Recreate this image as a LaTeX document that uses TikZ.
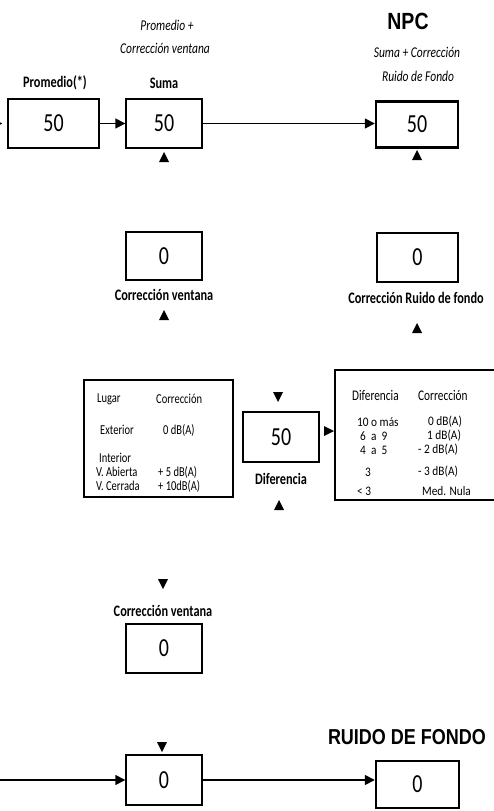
\documentclass[tikz,border=0pt]{standalone}
\usepackage{graphicx}
\usepackage{fontspec}
\setmainfont{Carlito}
\newfontfamily\arialfont{Liberation Sans}
\usetikzlibrary{arrows.meta}
\newcommand{\vs}[1]{\scalebox{1}[1.3]{#1}}
\newcommand{\vt}[1]{\scalebox{1}[1.2]{#1}}
\newcommand{\vr}[1]{\scalebox{1}[1.15]{#1}}
\begin{document}
\begin{tikzpicture}[x=1pt,y=-1pt,
  box/.style={draw, line width=1.4pt, inner sep=0pt, font=\fontsize{20}{24}\selectfont},
  bbox/.style={box, line width=2.4pt},
  lbl/.style={font=\bfseries\fontsize{12.3}{14}\selectfont, inner sep=0pt},
  capt/.style={font=\itshape\fontsize{11.5}{14}\selectfont, inner sep=0pt},
  titl/.style={font=\arialfont\bfseries\fontsize{18}{20}\selectfont, inner sep=0pt},
  ttxt/.style={font=\fontsize{11.3}{13}\selectfont, inner sep=0pt, anchor=west},
  ltxt/.style={font=\fontsize{10.5}{12}\selectfont, inner sep=0pt, anchor=west},
  arr/.style={line width=1.5pt, -{Triangle[length=10pt,width=10pt]}},
  tup/.pic={\fill (0,-5) -- (5,5) -- (-5,5) -- cycle;},
  tdown/.pic={\fill (0,5) -- (5,-5) -- (-5,-5) -- cycle;},
  tright/.pic={\fill (5,0) -- (-5,-5) -- (-5,5) -- cycle;}
]
\useasboundingbox (0,0) rectangle (493,811);

% ---------- top ----------
\node[capt] (c1a) at (167,25) {\vs{Promedio +}};
\node[capt] (c1b) at (165,48) {\vs{Corrección ventana}};
\node[titl, font=\arialfont\bfseries\fontsize{19.5}{22}\selectfont] (npct) at (408,21) {\vt{NPC}};
\node[capt] (c2a) at (417,52) {\vs{Suma + Corrección}};
\node[capt] (c2b) at (418,76) {\vs{Ruido de Fondo}};
\node[lbl] (lprom) at (55,83) {\vs{Promedio(*)}};
\node[lbl] (lsuma) at (164,83) {\vs{Suma}};
\node[box, minimum width=91pt, minimum height=49pt] (prom) at (53.5,123.5) {\vs{50}};
\node[box, minimum width=76pt, minimum height=49pt] (suma) at (164,123.5) {\vs{50}};
\node[bbox, minimum width=82pt, minimum height=46pt] (npc) at (417,124.5) {\vs{50}};
\coordinate (in1) at (-20,123.5);
\draw[arr, shorten >=5pt] (in1) -- (prom.west);
\draw[arr] (prom.east) -- (suma.west);
\draw[arr] (suma.east) -- (suma.east -| npc.west);
\pic at (164,157) {tup};
\pic at (417,155) {tup};

% ---------- middle ----------
\node[box, minimum width=76pt, minimum height=48pt] (cv) at (164,256) {\vs{0}};
\node[lbl] (lcv) at (164,295) {\vs{Corrección ventana}};
\pic at (164,315) {tup};
\node[box, minimum width=81pt, minimum height=49pt] (crf) at (417.5,257.5) {\vs{0}};
\node[lbl] (lcrf) at (416,298) {\vs{Corrección Ruido de fondo}};
\pic at (417,328) {tup};

% left table
\node[box, minimum width=149pt, minimum height=117pt] (tab1) at (158.5,438.5) {};
\node[ltxt] (l1a) at (97,399) {\vs{Lugar}};
\node[ltxt] (l1b) at (156,399) {\vs{Corrección}};
\node[ltxt] (l2a) at (100,430) {\vs{Exterior}};
\node[ltxt] (l2b) at (163,430) {\vs{0 dB(A)}};
\node[ltxt] (l3a) at (99,458) {\vs{Interior}};
\node[ltxt] (l4a) at (96,472) {\vs{V. Abierta}};
\node[ltxt] (l4b) at (158,472) {\vs{+ 5 dB(A)}};
\node[ltxt] (l5a) at (96,486) {\vs{V. Cerrada}};
\node[ltxt] (l5b) at (158,486) {\vs{+ 10dB(A)}};

% difference box
\pic at (278,397) {tdown};
\node[box, minimum width=76pt, minimum height=50pt] (dif) at (281,437) {\vs{50}};
\node[lbl] (ldif) at (281,479) {\vs{Diferencia}};
\pic at (279,505) {tup};
\pic at (329,431) {tright};

% right table
\node[box, minimum width=161pt, minimum height=130pt] (tab2) at (415.5,435) {};
\node[ttxt] (r1a) at (352,395) {\vs{Diferencia}};
\node[ttxt] (r1b) at (418,395) {\vs{Corrección}};
\node[ttxt] (r2a) at (357,422) {\vr{10 o más}};
\node[ttxt] (r2b) at (428,422) {\vr{0 dB(A)}};
\node[ttxt] (r3a) at (360,436) {\vr{6~ a~ 9}};
\node[ttxt] (r3b) at (427,436) {\vr{1 dB(A)}};
\node[ttxt] (r4a) at (360,450) {\vr{4~ a~ 5}};
\node[ttxt] (r4b) at (418,450) {\vr{- 2 dB(A)}};
\node[ttxt] (r5a) at (365,472) {\vr{3}};
\node[ttxt] (r5b) at (418,472) {\vr{- 3 dB(A)}};
\node[ttxt] (r6a) at (357,491) {\vr{< 3}};
\node[ttxt] (r6b) at (422,491) {\vr{Med. Nula}};

% ---------- bottom ----------
\pic at (163,584) {tdown};
\node[lbl] (lcv2) at (163,611) {\vs{Corrección ventana}};
\node[box, minimum width=76pt, minimum height=49pt] (cv2) at (164,648.5) {\vs{0}};
\pic at (162,747) {tdown};
\node[box, minimum width=76pt, minimum height=50pt] (sum2) at (164,780) {\vs{0}};
\node[titl] (rft) at (407,737) {\vt{RUIDO DE FONDO}};
\node[bbox, minimum width=83pt, minimum height=47pt] (rf) at (417.5,784.5) {\vs{0}};
\coordinate (in2) at (-20,780);
\draw[arr] (in2) -- (sum2.west);
\draw[arr] (sum2.east) -- (sum2.east -| rf.west);
\end{tikzpicture}
\end{document}
